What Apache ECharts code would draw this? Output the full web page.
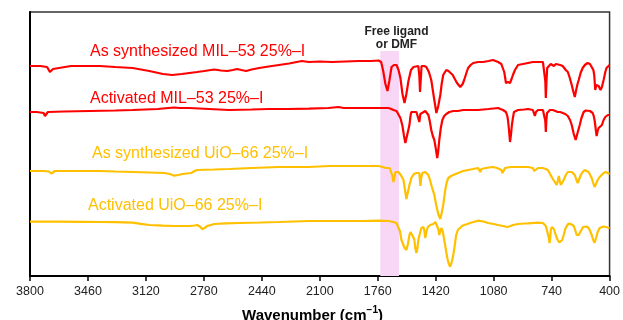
<!DOCTYPE html>
<html>
<head>
<meta charset="utf-8">
<script src="https://cdn.jsdelivr.net/npm/echarts@6/dist/echarts.min.js"></script>
<style>
html,body{margin:0;padding:0;background:#fff;}
#chart{width:623px;height:320px;}
</style>
</head>
<body>
<div id="chart"></div>
<script>
// Tick labels of the wavenumber axis
const tickLabels = ['3800','3460','3120','2780','2440','2100','1760','1420','1080','740','400'];

// Series names (labels)
const seriesNames = ['As synthesized MIL\u201353 25%\u2013I','Activated MIL\u201353 25%\u2013I','As synthesized UiO\u201366 25%\u2013I','Activated UiO\u201366 25%\u2013I'];

// Highlighted region (wavenumber)
const bandRange = [1745, 1635];
const bandTop = 225;

// Spectra: [wavenumber, offset transmittance]
const asSynMIL = [[3800,210],[3740,210],[3700,209],[3683,204],[3665,207],[3654,209],[3560,210],[3391,210],[3300,209],[3198,208],[3100,205],[3020,202],[2965,201],[2910,202],[2865,203],[2820,204],[2778,205],[2719,206.5],[2680,205.5],[2643,205],[2610,206],[2585,207],[2560,206],[2532,205],[2500,206.5],[2456,208],[2400,209.5],[2340,211],[2280,212.5],[2205,215],[2164,214],[2100,214.5],[2030,214],[1950,214.5],[1872,215],[1800,215],[1755,215.5],[1740,214],[1728,205],[1715,192],[1703,185],[1692,195],[1679,209],[1665,211],[1650,211],[1638,206],[1627,198],[1615,182],[1603,173],[1592,182],[1580,195],[1565,206],[1550,209],[1539,210],[1522,210],[1516,200],[1512,184],[1507,198],[1503,210],[1498,210],[1488,210],[1475,209],[1460,204],[1446,196],[1430,178],[1416,163],[1405,170],[1393,181],[1385,192],[1376,201],[1358,206],[1345,205],[1335,204],[1320,201],[1311,198],[1295,193],[1276,189],[1262,192],[1253,196],[1240,203],[1230,208],[1215,211],[1200,213],[1171,214],[1142,214],[1110,215],[1084,216],[1054,214],[1035,212],[1025,210],[1018,204],[1013,199],[1008,193],[1002,195],[996,194],[990,196],[984,193],[975,197],[967,201],[955,206],[937,211],[908,212],[879,213],[850,214],[821,214],[791,214],[782,212],[777,195],[774,178],[770,195],[766,208],[762,210],[745,212],[727,210],[715,212],[704,211],[690,211],[675,210],[665,208],[657,206],[645,204],[635,199],[622,191],[612,184],[604,179],[596,186],[588,192],[581,196],[570,203],[558,208],[545,211],[529,213],[515,212],[505,210],[495,206],[490,201],[484,186],[478,191],[470,193],[464,190],[458,189],[453,186],[445,189],[435,196],[425,204],[418,208],[410,210],[400,211]];

const actMIL = [[3800,164],[3760,164],[3720,163],[3712,160],[3707,158],[3702,162],[3695,164],[3600,164.5],[3449,165],[3300,165.5],[3198,166],[3050,167],[2990,168],[2953,168.5],[2920,168],[2865,168],[2750,167],[2632,166],[2500,166.5],[2400,167],[2281,167],[2164,167.3],[2050,168],[1989,169],[1960,168],[1850,168],[1755,168],[1697,168],[1680,167],[1668,166],[1650,165],[1639,163],[1627,158],[1615,150],[1606,140],[1598,133],[1586,142],[1574,151],[1568,160],[1563,164],[1551,164],[1533,164],[1522,162],[1516,154],[1510,162],[1504,164],[1481,165],[1470,164],[1463,161],[1455,155],[1446,146],[1437,140],[1428,136],[1418,126],[1411,118],[1405,125],[1399,136],[1390,148],[1381,156],[1370,160],[1358,162],[1340,164],[1317,165],[1290,165],[1259,166],[1220,166],[1171,166],[1110,167],[1054,168],[1040,167],[1025,166],[1008,164],[1000,160],[996,156],[990,146],[984,134],[978,142],[973,151],[967,158],[961,164],[950,165],[937,166],[900,166.5],[879,167],[850,166],[844,163],[838,160],[832,164],[820,166],[791,166],[780,164],[777,155],[774,144],[771,155],[767,163],[762,165],[750,166],[733,166],[718,165],[704,164],[690,164],[675,163],[660,162],[645,160],[632,156],[622,151],[610,142],[599,136],[588,143],[575,151],[565,158],[552,164],[540,165.5],[529,166],[515,165],[499,163],[493,160],[488,156],[482,148],[476,140],[470,145],[464,148],[458,147],[453,148],[445,151],[435,156],[425,159],[418,161],[410,161],[400,161]];

const asSynUiO = [[3800,105],[3720,105],[3690,104.5],[3675,102.5],[3665,104],[3654,105],[3500,105],[3391,105],[3300,104.5],[3198,104],[3100,103.5],[3011,103],[2980,102],[2953,100.3],[2930,101],[2906,102],[2880,102.5],[2854,103],[2835,105],[2819,106],[2720,106.5],[2632,107],[2500,108],[2340,109],[2164,109],[2047,110],[1900,110],[1755,110],[1730,109],[1714,108],[1690,108],[1679,107],[1674,100],[1668,94],[1662,99],[1656,104],[1645,105],[1639,104],[1625,101],[1609,96],[1600,86],[1592,77],[1583,84],[1574,91],[1563,98],[1548,102],[1533,103],[1516,103],[1513,97],[1510,90],[1505,98],[1498,103],[1481,104],[1470,103],[1463,101],[1455,97],[1446,91],[1437,86],[1428,81],[1417,71],[1405,62],[1393,57],[1385,63],[1376,71],[1364,86],[1355,94],[1346,98],[1330,100],[1317,101],[1288,103],[1259,105],[1230,106],[1200,107],[1171,108],[1165,106],[1159,104],[1152,107],[1142,108],[1110,108.5],[1084,109],[1060,108],[1035,106],[1028,103],[1025,101],[1020,105],[1013,108],[980,109],[937,109],[879,109],[850,108],[842,105],[838,104],[834,107],[820,108],[791,108],[775,107],[762,106],[752,103],[745,101],[733,97],[721,94],[710,91],[704,95],[698,100],[692,95],[686,91],[678,93],[669,96],[657,101],[645,104],[634,104.5],[622,104],[612,103],[604,101],[596,97],[587,93],[578,97],[569,101],[558,104],[546,106],[535,105.5],[523,104],[514,101],[505,98],[496,93],[488,89],[480,92],[470,96],[458,99],[447,101],[435,103],[423,104],[412,103],[400,102]];

const actUiO = [[3800,54.3],[3700,54.3],[3625,54.3],[3500,54.2],[3391,54],[3300,53.8],[3198,53.3],[3150,52.2],[3099,51],[3020,50.3],[2953,50],[2900,50],[2865,50],[2835,50.5],[2819,51],[2800,49],[2789,46.7],[2778,48.5],[2760,50],[2740,51],[2719,52],[2650,52.7],[2573,53],[2450,53.5],[2340,54],[2164,55],[2050,55],[1931,55],[1850,55],[1755,55.3],[1697,55],[1668,54],[1650,53],[1639,51],[1630,45],[1621,36],[1605,29],[1592,26],[1583,32],[1574,41],[1568,44],[1563,44],[1555,40],[1545,36],[1540,28],[1533,23],[1527,28],[1522,36],[1512,43],[1504,48],[1492,49],[1486,45],[1481,38],[1475,44],[1466,49],[1452,51],[1434,52],[1422,54],[1411,52],[1405,47],[1399,41],[1393,45],[1387,48],[1378,44],[1370,36],[1360,26],[1352,18],[1343,12],[1335,9.3],[1326,14],[1317,21],[1308,31],[1300,41],[1290,46],[1282,48],[1265,50],[1253,51],[1235,52],[1218,53],[1200,54],[1171,55.3],[1140,54.5],[1113,53],[1080,52],[1054,51],[1025,50],[1000,49],[995,47],[990,48],[980,50],[967,51],[937,52],[900,52.5],[879,52.7],[821,53.3],[791,53],[774,50],[768,46],[762,44],[756,38],[752,33],[748,38],[745,46],[739,49],[733,49.3],[727,47],[721,44],[712,39],[704,36],[695,33.5],[686,32.7],[678,36],[669,41],[660,47],[651,50],[640,52.5],[634,52.7],[622,51.5],[610,50],[600,45],[593,41],[587,41],[581,41],[572,44],[564,46],[555,49],[546,50],[535,49.5],[523,48],[514,45],[505,41],[496,36],[488,33.3],[479,38],[470,44],[458,48],[447,50],[435,49.5],[423,49],[412,48.5],[400,48]];

const RED = '#ff0000';
const GOLD = '#ffc000';
const FONT = "'Liberation Sans', Arial, sans-serif";
const tickValues = tickLabels.map(Number);

const chart = echarts.init(document.getElementById('chart'), null, {renderer: 'canvas'});

function lineSeries(name, data, color) {
  return {
    name: name, type: 'line', data: data, symbol: 'none', showSymbol: false,
    lineStyle: {color: color, width: 2.2}, itemStyle: {color: color},
    z: 3, silent: true, animation: false
  };
}

const option = {
  animation: false,
  backgroundColor: '#fff',
  grid: {left: 30, right: 11, top: 12, bottom: 44, show: true, borderColor: '#333', borderWidth: 1.5, backgroundColor: 'transparent'},
  xAxis: {
    type: 'value', min: 400, max: 3800, inverse: true,
    axisLine: {show: true, lineStyle: {color: '#000', width: 2}},
    axisTick: {show: true, inside: false, length: 5, lineStyle: {color: '#000', width: 1.5}, customValues: tickValues},
    axisLabel: {show: true, customValues: tickValues, formatter: v => String(v), fontSize: 12.5, color: '#222', fontFamily: FONT, margin: 9},
    splitLine: {show: false}
  },
  yAxis: {
    type: 'value', min: 0, max: 264,
    axisLine: {show: true, lineStyle: {color: '#000', width: 2}},
    axisTick: {show: false}, axisLabel: {show: false}, splitLine: {show: false}
  },
  series: [
    {
      type: 'line', data: [], symbol: 'none', silent: true, z: 1,
      markArea: {
        silent: true,
        itemStyle: {color: '#f7d7f5'},
        data: [[{xAxis: bandRange[0], yAxis: 0}, {xAxis: bandRange[1], yAxis: bandTop}]]
      }
    },
    lineSeries(seriesNames[0], asSynMIL, RED),
    lineSeries(seriesNames[1], actMIL, RED),
    lineSeries(seriesNames[2], asSynUiO, GOLD),
    lineSeries(seriesNames[3], actUiO, GOLD)
  ],
  graphic: [
    {type: 'text', x: 90, y: 52, style: {text: seriesNames[0], fill: RED, font: '16px ' + FONT, verticalAlign: 'middle', align: 'left'}},
    {type: 'text', x: 90, y: 99, style: {text: seriesNames[1], fill: RED, font: '16px ' + FONT, verticalAlign: 'middle', align: 'left'}},
    {type: 'text', x: 92, y: 154, style: {text: seriesNames[2], fill: GOLD, font: '16px ' + FONT, verticalAlign: 'middle', align: 'left'}},
    {type: 'text', x: 88, y: 205.5, style: {text: seriesNames[3], fill: GOLD, font: '16px ' + FONT, verticalAlign: 'middle', align: 'left'}},
    {type: 'text', x: 396.5, y: 38, style: {text: 'Free ligand\nor DMF', fill: '#222', font: 'bold 12px ' + FONT, lineHeight: 13.5, verticalAlign: 'middle', align: 'center'}},
    {type: 'text', x: 312.5, y: 314, style: {
      text: '{a|Wavenumber (cm}{s|\u22121}{a|)}', align: 'center', verticalAlign: 'middle',
      rich: {
        a: {fontSize: 15, fontWeight: 'bold', fontFamily: FONT, fill: '#000', lineHeight: 18, verticalAlign: 'bottom'},
        s: {fontSize: 10, fontWeight: 'bold', fontFamily: FONT, fill: '#000', lineHeight: 10, verticalAlign: 'top'}
      }
    }}
  ]
};
chart.setOption(option);
</script>
</body>
</html>
